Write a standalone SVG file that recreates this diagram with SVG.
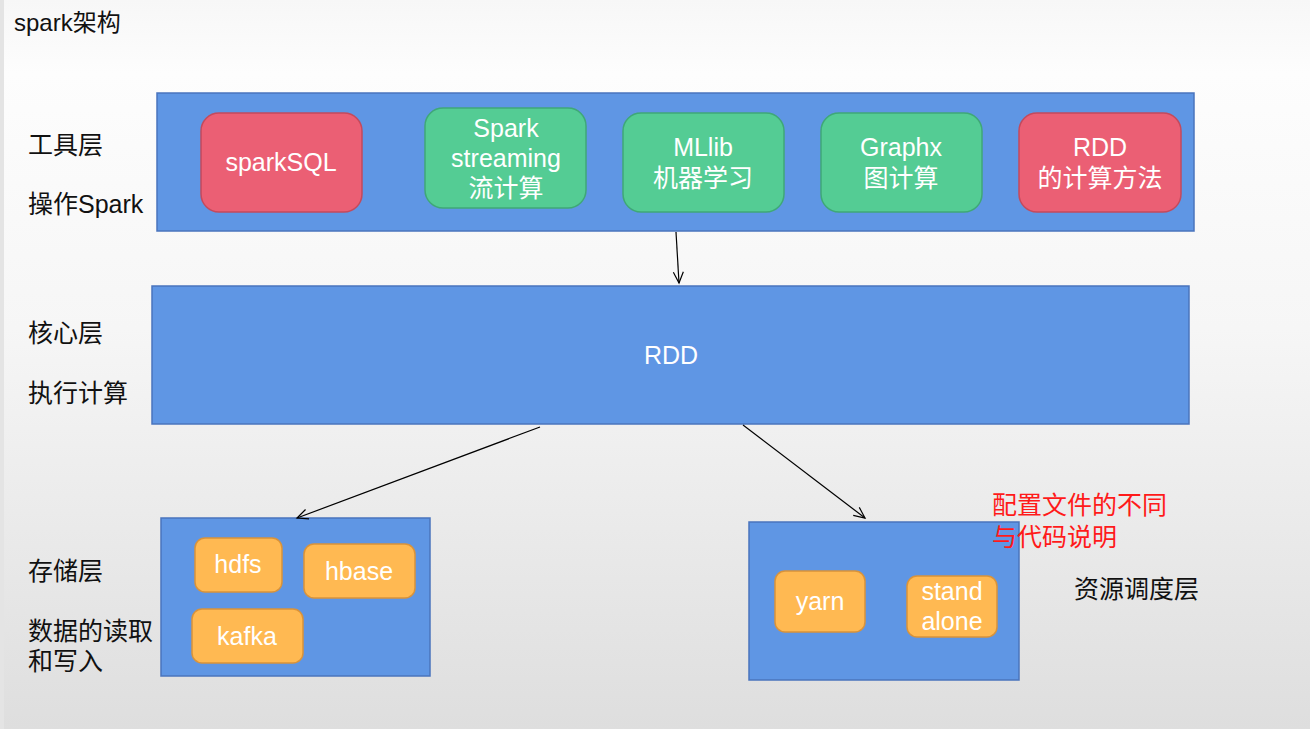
<svg xmlns="http://www.w3.org/2000/svg" width="1310" height="729" viewBox="0 0 1310 729">
<defs>
<linearGradient id="bg" x1="0" y1="0" x2="0" y2="1">
<stop offset="0" stop-color="#f7f7f7"/>
<stop offset="0.1" stop-color="#fdfdfd"/>
<stop offset="0.45" stop-color="#f6f6f6"/>
<stop offset="1" stop-color="#dedede"/>
</linearGradient>
<marker id="arr" markerWidth="14" markerHeight="12" refX="12" refY="6" orient="auto" markerUnits="userSpaceOnUse">
<path d="M1,1 L12,6 L1,11" fill="none" stroke="#000" stroke-width="1.2"/>
</marker>
<style>
text{font-family:"Liberation Sans","Noto Sans CJK SC",sans-serif}
.lbl{font-size:25px;fill:#111}
.layer{fill:#5f96e4;stroke:#4a74bd;stroke-width:1.5}
.red{fill:#eb5f74;stroke:#c44a5c;stroke-width:1.5}
.green{fill:#54cc94;stroke:#3fa877;stroke-width:1.5}
.orange{fill:#ffb952;stroke:#d9933a;stroke-width:1.5}
.w{font-size:25px;fill:#fff;text-anchor:middle}
.conn{stroke:#000;stroke-width:1.2;fill:none;marker-end:url(#arr)}
</style>
</defs>
<rect width="1310" height="729" fill="url(#bg)"/>
<rect x="0" y="0" width="4" height="729" fill="#e4e4e4"/>
<text x="14" y="31" style="font-size:24px;fill:#111">spark架构</text>

<g id="labels">
<text class="lbl" x="28" y="154">工具层</text>
<text class="lbl" x="28" y="213">操作Spark</text>
<text class="lbl" x="28" y="342">核心层</text>
<text class="lbl" x="28" y="402">执行计算</text>
<text class="lbl" x="28" y="580">存储层</text>
<text class="lbl" x="28" y="640">数据的读取</text>
<text class="lbl" x="28" y="670">和写入</text>
<text class="lbl" x="1074" y="598">资源调度层</text>
</g>

<g id="tool-layer">
<rect class="layer" x="157" y="93" width="1037" height="138"/>
</g>
<g id="sparkSQL">
<rect class="red" x="201" y="113" width="161" height="99" rx="18"/>
<text class="w" x="281" y="171">sparkSQL</text>
</g>
<g id="streaming">
<rect class="green" x="425" y="108" width="161" height="100" rx="18"/>
<text class="w" x="506" y="137">Spark</text>
<text class="w" x="506" y="167">streaming</text>
<text class="w" x="506" y="197">流计算</text>
</g>
<g id="mllib">
<rect class="green" x="623" y="113" width="161" height="99" rx="18"/>
<text class="w" x="703" y="156">MLlib</text>
<text class="w" x="703" y="187">机器学习</text>
</g>
<g id="graphx">
<rect class="green" x="821" y="113" width="161" height="99" rx="18"/>
<text class="w" x="901" y="156">Graphx</text>
<text class="w" x="901" y="187">图计算</text>
</g>
<g id="rdd-methods">
<rect class="red" x="1019" y="113" width="162" height="99" rx="18"/>
<text class="w" x="1100" y="156">RDD</text>
<text class="w" x="1100" y="187">的计算方法</text>
</g>

<g id="core-layer">
<rect class="layer" x="152" y="286" width="1037" height="138"/>
<text class="w" x="671" y="364">RDD</text>
</g>

<g id="storage-layer">
<rect class="layer" x="161" y="518" width="269" height="158"/>
</g>
<g id="hdfs">
<rect class="orange" x="195" y="538" width="87" height="54" rx="10"/>
<text class="w" x="238" y="573">hdfs</text>
</g>
<g id="hbase">
<rect class="orange" x="304" y="544" width="111" height="54" rx="10"/>
<text class="w" x="359" y="580">hbase</text>
</g>
<g id="kafka">
<rect class="orange" x="192" y="609" width="111" height="54" rx="10"/>
<text class="w" x="247" y="645">kafka</text>
</g>

<g id="resource-layer">
<rect class="layer" x="749" y="522" width="270" height="158"/>
</g>
<g id="yarn">
<rect class="orange" x="775" y="571" width="90" height="61" rx="10"/>
<text class="w" x="820" y="610">yarn</text>
</g>
<g id="standalone">
<rect class="orange" x="907" y="576" width="90" height="61" rx="10"/>
<text class="w" x="952" y="600">stand</text>
<text class="w" x="952" y="630">alone</text>
</g>

<g id="connectors">
<line class="conn" x1="676" y1="232" x2="679" y2="283"/>
<line class="conn" x1="540" y1="427" x2="297" y2="518"/>
<line class="conn" x1="743" y1="425" x2="865" y2="518"/>
</g>

<g id="note">
<text x="992" y="514" style="font-size:25px;fill:#ff1a1a">配置文件的不同</text>
<text x="992" y="546" style="font-size:25px;fill:#ff1a1a">与代码说明</text>
</g>
</svg>
